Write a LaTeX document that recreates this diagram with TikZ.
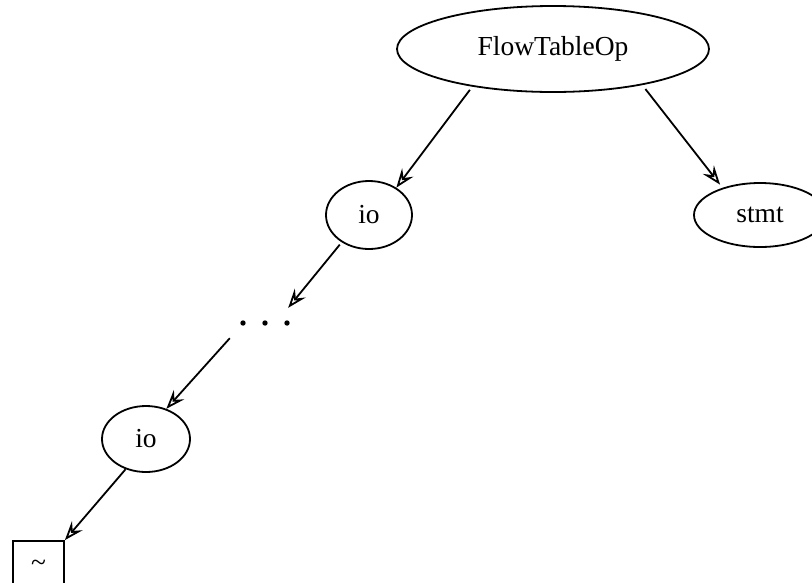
\documentclass[tikz,border=0pt]{standalone}
\usepackage{fontspec}
\setmainfont{Liberation Serif}
\usetikzlibrary{arrows.meta,shapes.geometric,calc}
\tikzset{
  every node/.style={font=\fontsize{27.5}{32}\selectfont},
  oval/.style={draw, ellipse, line width=1.8pt, inner sep=0pt},
  leaf/.style={draw, rectangle, line width=1.8pt, inner sep=0pt},
  gap/.style={inner sep=0pt, minimum width=46pt, minimum height=30pt},
  edge/.style={line width=1.8pt, -{Stealth[open, length=19pt, width=14pt, inset=7pt]}}
}
\begin{document}
\begin{tikzpicture}[x=1pt, y=-1pt]
  \useasboundingbox (0,0) rectangle (812,582);
  \clip (0,0) rectangle (812,582);
  % tree nodes
  \node[oval, minimum width=312pt, minimum height=86pt] (root) at (553,49) {FlowTableOp};
  \node[oval, minimum width=86pt, minimum height=68pt] (io1) at (369,215) {io};
  \node[oval, minimum width=132pt, minimum height=64pt] (stmt) at (760,215) {stmt};
  \node[gap] (dots) at (265,323) {};
  \node[oval, minimum width=88pt, minimum height=66pt] (io2) at (146,439) {io};
  \node[leaf, minimum width=51pt, minimum height=50pt] (tail) at (38.5,566) {\raisebox{-2pt}{\textasciitilde}};
  % elided part of the chain
  \foreach \dx in {-22,0,22}
    \fill ($(dots.center)+(\dx,0)$) circle (2.7);
  % edges
  \draw[edge, shorten <=4pt] (root.205) -- (io1.45);
  \draw[edge, shorten <=5pt, shorten >=4pt] (root.338) -- (stmt.144);
  \draw[edge, shorten <=3pt] (io1.225) -- (dots.north east);
  \draw[edge] ([xshift=-12pt]dots.south west) -- (io2.56);
  \draw[edge] (io2.236) -- (tail.north east);
\end{tikzpicture}
\end{document}
